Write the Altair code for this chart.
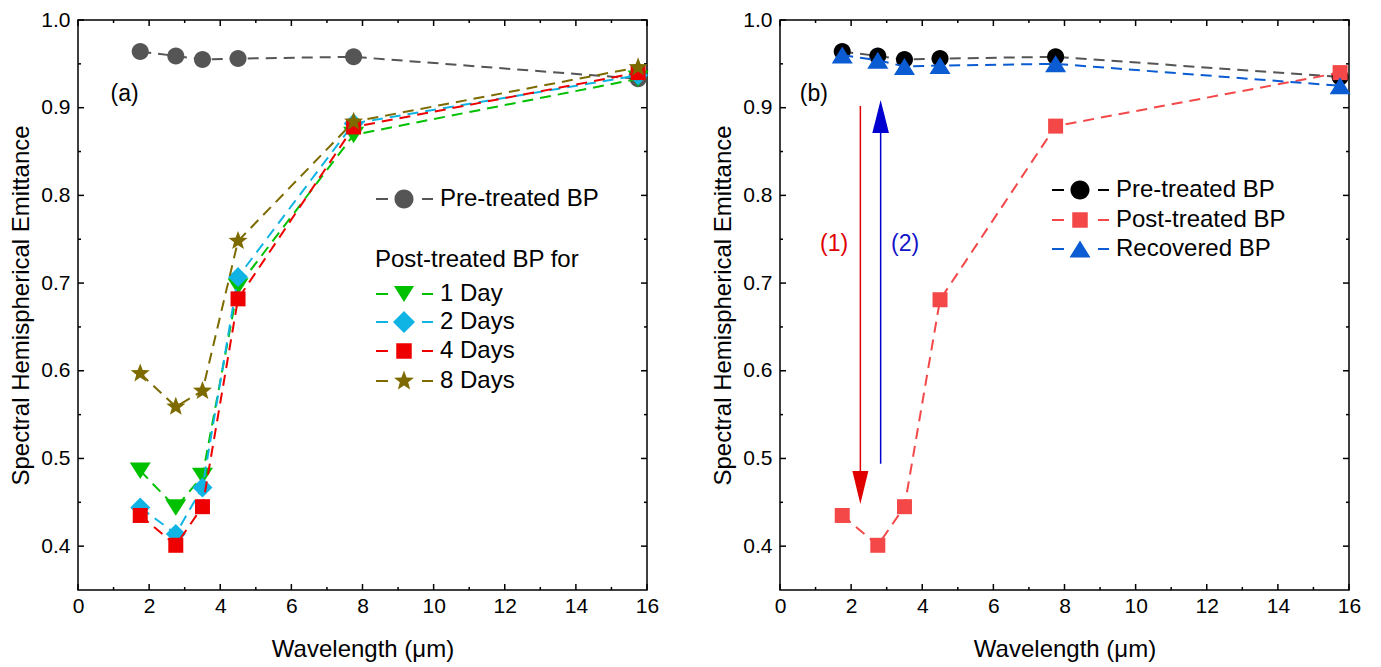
import math
import altair as alt
import pandas as pd

FONT = "Liberation Sans"

# ---------------- data ----------------
wavelength = [1.75, 2.75, 3.5, 4.5, 7.75, 15.75]

pre_a = [0.964, 0.959, 0.955, 0.956, 0.958, 0.933]
day1 = [0.486, 0.444, 0.480, 0.696, 0.869, 0.933]
day2 = [0.444, 0.414, 0.467, 0.707, 0.882, 0.937]
day4 = [0.435, 0.401, 0.445, 0.682, 0.878, 0.940]
day8 = [0.597, 0.559, 0.577, 0.748, 0.884, 0.946]

pre_b = [0.964, 0.959, 0.955, 0.956, 0.958, 0.935]
post_b = [0.435, 0.401, 0.445, 0.681, 0.879, 0.940]
recovered_b = [0.960, 0.954, 0.947, 0.948, 0.950, 0.925]

names_a = ["Pre-treated BP", "1 Day", "2 Days", "4 Days", "8 Days"]
names_b = ["Pre-treated BP", "Post-treated BP", "Recovered BP"]
legend_title_a = "Post-treated BP for"

arrow_x = [2.26, 2.83]
arrow_start = [0.902, 0.494]
arrow_end = [0.480, 0.875]
arrow_head = [0.467, 0.890]
arrow_text = ["(1)", "(2)"]
arrow_text_x = [1.52, 3.52]
arrow_text_y = [0.745, 0.745]

panel_text = ["(a)", "(b)"]
panel_text_x = [1.31, 0.95]
panel_text_y = [0.916, 0.916]

x_major = [0, 2, 4, 6, 8, 10, 12, 14, 16]
x_minor = [1, 3, 5, 7, 9, 11, 13, 15]
y_major = [0.4, 0.5, 0.6, 0.7, 0.8, 0.9, 1.0]
y_minor = [0.45, 0.55, 0.65, 0.75, 0.85, 0.95]

# ---------------- styles ----------------
W, H = 569, 570
xscale = alt.Scale(domain=[0, 16], nice=False, zero=False)
yscale = alt.Scale(domain=[0.35, 1.0], nice=False, zero=False)
DASH = [11, 7]
U = 10.0  # pixel size of one path unit for size=400
MAJOR, MINOR = 6, 3


def poly(pts, u=U):
    return "M" + " L".join(f"{x/u:.3f},{y/u:.3f}" for x, y in pts) + " Z"


def circ(r, u=U):
    a = r / u
    return f"M{a:.3f},0 A{a:.3f},{a:.3f} 0 1,1 {-a:.3f},0 A{a:.3f},{a:.3f} 0 1,1 {a:.3f},0 Z"


def star(R, ratio=0.42):
    pts = []
    for k in range(10):
        ang = math.radians(-90 + 36 * k)
        rr = R if k % 2 == 0 else R * ratio
        pts.append((rr * math.cos(ang), rr * math.sin(ang)))
    return pts


def tri_down(w, h):
    return [(-w / 2, -h / 2), (w / 2, -h / 2), (0, h / 2)]


def tri_up(w, h):
    return [(0, -h / 2), (w / 2, h / 2), (-w / 2, h / 2)]


def diamond(s):
    return [(0, -s / 2), (s / 2, 0), (0, s / 2), (-s / 2, 0)]


def square(s):
    return [(-s / 2, -s / 2), (s / 2, -s / 2), (s / 2, s / 2), (-s / 2, s / 2)]


DASHES = poly([(-28, -1), (-16, -1), (-16, 1), (-28, 1)]) + " " + poly([(18, -1), (29, -1), (29, 1), (18, 1)])

M = {
    "circle": (circ(8.5), DASHES + " " + circ(9.5)),
    "tdown": (poly(tri_down(21, 16.5)), DASHES + " " + poly(tri_down(20, 16))),
    "diamond": (poly(diamond(20)), DASHES + " " + poly(diamond(22))),
    "square": (poly(square(15)), DASHES + " " + poly(square(15.5))),
    "star": (poly(star(10)), DASHES + " " + poly(star(10.5))),
    "tup": (poly(tri_up(21, 17)), DASHES + " " + poly(tri_up(21, 17))),
}


def XE():
    return alt.X("x:Q", scale=xscale, axis=None)


def YE():
    return alt.Y("y:Q", scale=yscale, axis=None)


def series(ys, name, color, marker, cx, cy, line_color=None):
    df = pd.DataFrame({"x": wavelength, "y": ys, "series": name})
    line = alt.Chart(df).mark_line(
        color=line_color or color, strokeDash=DASH, strokeWidth=2
    ).encode(x=XE(), y=YE())
    pts = alt.Chart(df).mark_point(
        shape=M[marker][0], size=400, filled=True, opacity=1, strokeWidth=0
    ).encode(
        x=XE(),
        y=YE(),
        color=alt.Color(
            "series:N",
            scale=alt.Scale(domain=[name], range=[color]),
            legend=alt.Legend(
                orient="none",
                legendX=cx - 10,
                legendY=cy - 12,
                symbolType=M[marker][1],
                symbolSize=400,
                symbolStrokeWidth=0,
                title=None,
                labelFont=FONT,
                labelFontSize=24,
                labelColor="black",
                labelOffset=24,
                labelLimit=400,
                padding=0,
            ),
        ),
    )
    return alt.layer(line, pts)


def axis_layer(df):
    common = dict(domain=False, grid=False, ticks=False, labelFont=FONT, labelFontSize=21,
                  labelColor="black", labelFlush=False, labelOverlap=False, titleFont=FONT,
                  titleFontSize=24, titleFontWeight="normal", titleColor="black")
    return alt.Chart(df).mark_point(opacity=0).encode(
        x=alt.X("x:Q", scale=xscale, axis=alt.Axis(
            orient="bottom", values=x_major, format="d", labelPadding=5,
            title="Wavelength (\u03bcm)", titlePadding=21, **common)),
        y=alt.Y("y:Q", scale=yscale, axis=alt.Axis(
            orient="left", values=y_major, format=".1f", labelPadding=8,
            title="Spectral Hemispherical Emittance", titlePadding=7, **common)),
    )


def tick_layers():
    """Inward ticks on all four sides, placed through the shared scales."""
    out = []
    for vals, ln in ((x_major, MAJOR), (x_minor, MINOR)):
        d = pd.DataFrame({"v": vals})
        xv = alt.X("v:Q", scale=xscale, axis=None)
        out.append(alt.Chart(d).mark_rule(color="black", strokeWidth=1.5).encode(
            x=xv, y=alt.value(H), y2=alt.value(H - ln)))
        out.append(alt.Chart(d).mark_rule(color="black", strokeWidth=1.5).encode(
            x=xv, y=alt.value(0), y2=alt.value(ln)))
    for vals, ln in ((y_major, MAJOR), (y_minor, MINOR)):
        d = pd.DataFrame({"v": vals})
        yv = alt.Y("v:Q", scale=yscale, axis=None)
        out.append(alt.Chart(d).mark_rule(color="black", strokeWidth=1.5).encode(
            y=yv, x=alt.value(0), x2=alt.value(ln)))
        out.append(alt.Chart(d).mark_rule(color="black", strokeWidth=1.5).encode(
            y=yv, x=alt.value(W), x2=alt.value(W - ln)))
    return out


def text_layer(texts, xs, ys, colors, size=23):
    df = pd.DataFrame({"x": xs, "y": ys, "t": texts, "c": colors})
    return alt.Chart(df).mark_text(font=FONT, fontSize=size, align="center", baseline="middle").encode(
        x=XE(), y=YE(), text="t:N", color=alt.Color("c:N", scale=None, legend=None)
    )


axis_df = pd.DataFrame({"x": wavelength, "y": pre_a})

# ---------------- panel (a) ----------------
left_layers = [axis_layer(axis_df)] + tick_layers() + [
    series(pre_a, names_a[0], "#555555", "circle", 324, 179),
    series(day1, names_a[1], "#00c000", "tdown", 324, 274),
    series(day2, names_a[2], "#10b4e4", "diamond", 324, 302),
    series(day4, names_a[3], "#ee0000", "square", 324, 331),
    series(day8, names_a[4], "#7d6b00", "star", 324, 361),
    text_layer([panel_text[0]], [panel_text_x[0]], [panel_text_y[0]], ["black"]),
    alt.Chart(pd.DataFrame({"t": [legend_title_a]})).mark_text(
        font=FONT, fontSize=24, align="left", baseline="middle", color="black"
    ).encode(x=alt.value(297), y=alt.value(240), text="t:N"),
]

left = alt.layer(*left_layers).resolve_scale(color="independent").resolve_axis(
    x="independent", y="independent").properties(width=W, height=H)

# ---------------- panel (b) ----------------
arr = pd.DataFrame({"x": arrow_x, "y": arrow_start, "y2": arrow_end, "h": arrow_head,
                    "c": ["#e00000", "#0000d0"]})
rules = alt.Chart(arr).mark_rule(strokeWidth=1.5).encode(
    x=XE(), y=YE(), y2="y2:Q", color=alt.Color("c:N", scale=None, legend=None))
head_down = poly([(-8, -16.5), (8, -16.5), (0, 16.5)], 16.5)
head_up = poly([(0, -16.5), (8.3, 16.5), (-8.3, 16.5)], 16.5)
heads = [
    alt.Chart(arr.iloc[[0]]).mark_point(shape=head_down, size=1089, filled=True, opacity=1,
                                        strokeWidth=0, color="#e00000").encode(
        x=XE(), y=alt.Y("h:Q", scale=yscale, axis=None)),
    alt.Chart(arr.iloc[[1]]).mark_point(shape=head_up, size=1089, filled=True, opacity=1,
                                        strokeWidth=0, color="#0000d0").encode(
        x=XE(), y=alt.Y("h:Q", scale=yscale, axis=None)),
]

right_layers = [axis_layer(axis_df)] + tick_layers() + [
    series(pre_b, names_b[0], "#000000", "circle", 298, 170, line_color="#555555"),
    series(post_b, names_b[1], "#f44848", "square", 298, 200),
    series(recovered_b, names_b[2], "#0b5bd3", "tup", 298, 229),
    rules,
] + heads + [
    text_layer(arrow_text, arrow_text_x, arrow_text_y, ["#e00000", "#1414c8"]),
    text_layer([panel_text[1]], [panel_text_x[1]], [panel_text_y[1]], ["black"]),
]

right = alt.layer(*right_layers).resolve_scale(color="independent").resolve_axis(
    x="independent", y="independent").properties(width=W, height=H)

chart = alt.hconcat(left, right, spacing=133, bounds="flush").properties(
    padding={"left": 1, "top": 0, "right": 5, "bottom": 0},
    background="white",
).configure_view(stroke="black", strokeWidth=1.5)

chart.save("out.html", embed_options={"renderer": "svg", "actions": False})
